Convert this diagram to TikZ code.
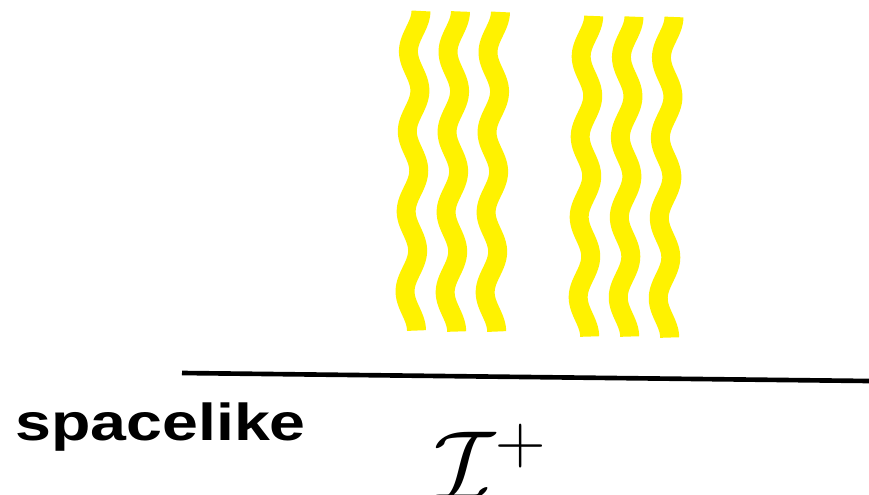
\RequirePackage{fix-cm}
\documentclass[tikz,border=0pt]{standalone}
\usepackage{fontspec}
\newfontfamily\labelfont{Liberation Sans}
\tikzset{
  wave/.style={draw=yellow, line width=13.5pt, line cap=butt},
  horizon/.style={draw=black, line width=3.3pt}
}
\begin{document}
\begin{tikzpicture}[x=0.025cm, y=-0.025cm]
        \useasboundingbox (0,0) rectangle (869,494);

        % Strahlung (zwei Bündel)
        \foreach \xa/\ya/\xb/\yb in {415/11/410.5/331, 454.5/11.5/450.7/332, 494.5/12/490.7/332,
                                     587.7/16/583.7/337, 628/16.7/623.7/337, 668/17/663.7/338}
          \draw[wave] plot[domain=0:1, samples=161, smooth]
            ({\xa+(\xb-\xa)*\x+6*cos(1440*\x)}, {\ya+(\yb-\ya)*\x});

        % Scri plus
        \coordinate (scrileft) at (182,373);
        \coordinate (scriright) at (869,381);
        \draw[horizon] (scrileft) -- (scriright);

        \node[anchor=base west, inner sep=0pt, font=\fontsize{37}{42}\selectfont\labelfont\bfseries]
          (spacelike) at (15,440.5) {\scalebox{1.24}[1]{spacelike}};
        \node[anchor=base west, inner sep=0pt, font=\fontsize{71}{80}\selectfont]
          (scri) at (433,500) {$\mathcal{I}^+$};
    \end{tikzpicture}
\end{document}
